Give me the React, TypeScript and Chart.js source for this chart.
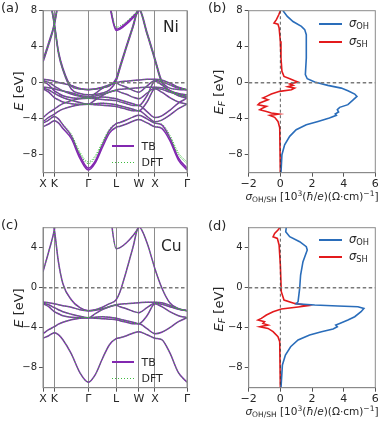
import React, { useEffect, useRef } from 'react';
import { Chart, registerables } from 'chart.js';

Chart.register(...registerables);
Chart.defaults.font.family = "'DejaVu Sans', sans-serif";

// ---------- k-path (band panels) ----------
const kPath = [0, 0.177, 0.354, 0.48, 0.62, 0.88, 1.15, 1.414, 1.63, 1.85, 2.07, 2.28, 2.4, 2.6, 2.8, 2.987, 3.24, 3.487, 3.7, 3.95, 4.22, 4.487];
const kTickPos = [0, 0.354, 1.414, 2.28, 2.987, 3.487, 4.487];
const kTickLabels = ['X', 'K', 'Γ', 'L', 'W', 'X', 'Γ'];
const niEnergyTicks = [-8, -4, 0, 4, 8];
const cuEnergyTicks = [-8, -4, 0, 4];
const sigmaTicks = [-2, 0, 2, 4, 6];
const niRange = [-10, 8];
const cuRange = [-10, 6];
const sigmaRange = [-2, 6];

// ---------- Ni bands (TB), eV ----------
const niS_up = [-4.89, -4.59, -4.22, -4.47, -5.08, -6.2, -8.4, -9.7, -8.9, -7.2, -5.6, -4.95, -4.83, -4.59, -4.28, -4.1, -4.47, -4.89, -5.08, -6.4, -8.6, -9.7];
const niS_dn = [-4.49, -4.15, -3.75, -4.02, -4.69, -5.9, -8.1, -9.5, -8.7, -6.9, -5.3, -4.56, -4.42, -4.15, -3.82, -3.61, -4.02, -4.49, -4.69, -6.1, -8.35, -9.5];
const niD2_up = [-4.34, -3.86, -3.49, -3.18, -2.94, -2.64, -2.45, -2.39, -2.45, -2.51, -2.57, -2.64, -2.76, -2.94, -3.12, -3.12, -3.73, -4.34, -4.16, -3.61, -2.88, -2.39];
const niD2_dn = [-3.88, -3.34, -2.94, -2.6, -2.33, -1.99, -1.79, -1.72, -1.79, -1.86, -1.93, -1.99, -2.13, -2.33, -2.53, -2.53, -3.21, -3.88, -3.68, -3.07, -2.26, -1.72];
const niD3_up = [-0.68, -1.05, -1.66, -1.9, -2.15, -2.33, -2.39, -2.39, -2.33, -2.27, -2.33, -2.45, -2.57, -2.76, -2.94, -3.12, -2.15, -0.68, -1.05, -1.66, -2.15, -2.39];
const niD3_dn = [0.17, -0.24, -0.91, -1.18, -1.45, -1.66, -1.72, -1.72, -1.66, -1.59, -1.66, -1.79, -1.93, -2.13, -2.33, -2.53, -1.45, 0.17, -0.24, -0.91, -1.45, -1.72];
const niD4_up = [-0.62, -0.81, -1.17, -1.42, -1.66, -1.96, -2.21, -2.39, -1.9, -1.42, -1.05, -0.87, -1.05, -1.29, -1.6, -1.78, -1.17, -0.62, -0.74, -1.05, -1.35, -1.54];
const niD4_dn = [0.24, 0.03, -0.37, -0.64, -0.91, -1.25, -1.52, -1.72, -1.18, -0.64, -0.24, -0.04, -0.24, -0.51, -0.85, -1.05, -0.37, 0.24, 0.1, -0.24, -0.58, -0.78];
const niD5_up = [-0.5, -0.56, -0.68, -0.81, -0.93, -1.11, -1.42, -1.54, -1.48, -1.29, -1.05, -0.81, -0.74, -0.68, -0.62, -0.56, -0.5, -0.5, -0.56, -0.87, -1.29, -1.54];
const niD5_dn = [0.37, 0.3, 0.17, 0.03, -0.1, -0.31, -0.64, -0.78, -0.71, -0.51, -0.24, 0.03, 0.1, 0.17, 0.24, 0.3, 0.37, 0.37, 0.3, -0.04, -0.51, -0.78];
const niX4_up = [2.3, 4.2, 6.4, 9.0, null, null, null, null, null, null, null, null, null, null, null, null, null, null, null, null, null, null];
const niX4_dn = [2.55, 4.45, 6.6, 9.2, null, null, null, null, null, null, null, null, null, null, null, null, null, null, null, null, null, null];
const niSP_up = [null, 10.0, 6.4, 3.3, 1.4, -0.7, -1.2, -1.35, -1.3, -1.15, -0.8, 0.2, 1.6, 3.9, 6.1, 8.1, 5.4, 2.5, 0.0, -0.9, -1.2, -1.35];
const niSP_dn = [null, 10.2, 6.6, 3.5, 1.6, -0.4, -0.7, -0.75, -0.7, -0.55, -0.35, 0.45, 1.85, 4.1, 6.3, 8.3, 5.6, 2.7, 0.2, -0.6, -0.75, -0.78];
const niUp_up = [null, null, null, null, null, null, null, null, null, null, 8.6, 5.8, 5.95, 6.5, 7.2, 8.0, 10.5, null, null, null, null, null];
const niUp_dn = [null, null, null, null, null, null, null, null, null, null, 8.8, 5.95, 6.1, 6.65, 7.35, 8.15, 10.6, null, null, null, null, null];
// Ni DFT (where it differs visibly from TB)
const niS_up_dft = [-4.89, -4.59, -4.22, -4.47, -5.0, -6.0, -7.9, -9.0, -8.3, -6.8, -5.45, -4.95, -4.83, -4.59, -4.28, -4.1, -4.47, -4.89, -5.0, -6.1, -8.0, -9.0];
const niS_dn_dft = [-4.49, -4.15, -3.75, -4.02, -4.6, -5.7, -7.7, -8.8, -8.1, -6.6, -5.15, -4.56, -4.42, -4.15, -3.82, -3.61, -4.02, -4.49, -4.6, -5.8, -7.8, -8.8];
const niUp_dft = [null, null, null, null, null, null, null, null, null, null, 9.0, 6.15, 6.3, 6.8, 7.45, 8.1, 10.6, null, null, null, null, null];

// ---------- Cu bands (TB), eV ----------
const cuS = [-5.05, -4.8, -4.5, -4.7, -5.2, -6.6, -8.5, -9.45, -8.7, -7.1, -5.7, -5.1, -5.0, -4.8, -4.55, -4.4, -4.7, -5.05, -5.2, -6.5, -8.5, -9.45];
const cuD2 = [-4.6, -4.2, -3.9, -3.65, -3.45, -3.2, -3.05, -3.0, -3.05, -3.1, -3.15, -3.2, -3.3, -3.45, -3.6, -3.6, -4.1, -4.6, -4.45, -4.0, -3.4, -3.0];
const cuD3 = [-1.6, -1.9, -2.4, -2.6, -2.8, -2.95, -3.0, -3.0, -2.95, -2.9, -2.95, -3.05, -3.15, -3.3, -3.45, -3.6, -2.8, -1.6, -1.9, -2.4, -2.8, -3.0];
const cuD4 = [-1.55, -1.7, -2.0, -2.2, -2.4, -2.65, -2.85, -3.0, -2.6, -2.2, -1.9, -1.75, -1.9, -2.1, -2.35, -2.5, -2.0, -1.55, -1.65, -1.9, -2.15, -2.3];
const cuD5 = [-1.45, -1.5, -1.6, -1.7, -1.8, -1.95, -2.2, -2.3, -2.25, -2.1, -1.9, -1.7, -1.65, -1.6, -1.55, -1.5, -1.45, -1.45, -1.5, -1.75, -2.1, -2.3];
const cuX4 = [1.6, 3.6, 5.8, 8.5, null, null, null, null, null, null, null, null, null, null, null, null, null, null, null, null, null, null];
const cuSP = [null, 8.5, 5.8, 2.6, 0.4, -1.2, -2.0, -2.3, -2.2, -1.95, -1.6, -1.2, -0.4, 1.7, 4.0, 6.1, 4.5, 1.9, 0.0, -1.5, -2.1, -2.3];
const cuUp = [null, null, null, null, null, null, null, null, null, null, 8.0, 3.9, 4.0, 4.5, 5.2, 6.1, 8.5, null, null, null, null, null];

// ---------- Conductivities (10^3 (hbar/e)(Ohm cm)^-1) vs E_F ----------
const niOhEnergy = [8.0, 7.37, 6.8, 6.26, 5.9, 5.33, 2.74, 0.9, 0.44, 0.07, -0.3, -0.6, -0.9, -1.26, -1.52, -1.9, -2.44, -2.74, -3.0, -3.26, -3.48, -3.63, -3.93, -4.3, -4.67, -5.22, -5.96, -6.9, -8.0, -10.0];
const niOhSigma = [0.17, 0.44, 0.8, 1.33, 1.54, 1.64, 1.64, 1.58, 1.7, 2.17, 3.0, 3.85, 4.27, 4.7, 4.84, 4.6, 4.27, 3.75, 3.6, 3.68, 3.47, 3.54, 3.1, 2.38, 1.64, 1.0, 0.59, 0.27, 0.1, 0.04];
const niShEnergy = [8.0, 7.55, 7.0, 6.63, 6.5, 6.1, 4.6, 2.74, 1.26, 0.7, 0.44, 0.22, 0.07, -0.15, -0.3, -0.44, -0.6, -0.78, -0.96, -1.26, -1.52, -1.7, -1.9, -2.26, -2.44, -2.63, -2.8, -3.0, -3.2, -3.37, -3.48, -3.63, -3.85, -4.3, -5.0, -10.0];
const niShSigma = [0.0, -0.1, -0.25, -0.4, -0.15, -0.08, 0.0, 0.04, 0.1, 0.23, 0.6, 0.9, 1.12, 0.6, 0.8, 0.48, 0.9, 0.7, -0.04, -0.57, -0.88, -1.1, -0.78, -1.3, -1.41, -0.88, -1.1, -1.3, -0.88, -0.57, -0.1, -0.67, -0.36, -0.15, -0.04, 0.0];
const cuOhEnergy = [6.1, 5.6, 5.1, 4.6, 4.1, 3.77, 2.6, 1.27, -0.07, -1.4, -1.6, -1.73, -1.83, -1.9, -2.07, -2.4, -2.9, -3.23, -3.57, -3.73, -3.9, -4.13, -4.4, -4.73, -5.23, -5.9, -6.73, -7.73, -10.0];
const cuOhSigma = [0.38, 0.34, 0.59, 1.22, 1.64, 1.7, 1.43, 1.28, 1.22, 1.12, 1.0, 2.17, 3.64, 4.9, 5.28, 5.1, 4.7, 4.27, 3.75, 3.5, 3.6, 3.33, 2.6, 1.85, 1.12, 0.65, 0.32, 0.13, 0.04];
const cuShEnergy = [6.1, 5.77, 5.43, 5.1, 4.93, 4.27, 2.27, -0.4, -1.23, -1.57, -1.8, -1.93, -2.13, -2.4, -2.73, -3.07, -3.23, -3.4, -3.57, -3.73, -3.9, -4.07, -4.4, -4.9, -5.4, -10.0];
const cuShSigma = [0.0, -0.15, -0.36, -0.46, -0.19, -0.08, 0.0, 0.06, 0.23, 0.9, 1.75, 1.12, 0.06, -0.46, -0.88, -1.2, -1.41, -1.0, -1.1, -0.78, -1.3, -0.78, -0.46, -0.15, -0.04, 0.0];

const niTB = [niS_up, niS_dn, niD2_up, niD2_dn, niD3_up, niD3_dn, niD4_up, niD4_dn, niD5_up, niD5_dn, niX4_up, niX4_dn, niSP_up, niSP_dn, niUp_up, niUp_dn];
const niDFT = [niS_up_dft, niS_dn_dft, niD2_up, niD2_dn, niD3_up, niD3_dn, niD4_up, niD4_dn, niD5_up, niD5_dn, niX4_up, niX4_dn, niSP_up, niSP_dn, niUp_dft];
const cuTB = [cuS, cuD2, cuD3, cuD4, cuD5, cuX4, cuSP, cuUp];
const cuDFT = [cuS, cuD2, cuD3, cuD4, cuD5, cuX4, cuSP, cuUp];

// ---------- styles ----------
const TXT = '#262626';
const FRAME = '#8a8a8a';
const TICKC = '#555';
const TB_COLOR = '#8228b0';
const DFT_COLOR = '#3dbb3d';
const OH_COLOR = '#2a6dba';
const SH_COLOR = '#e31a1c';
const TICK_FONT = 10;

const fmt = (v: number) => (v < 0 ? '\u2212' + Math.abs(v) : String(v));

function refPlugin(vertical: boolean) {
  return {
    id: 'refLines',
    afterDatasetsDraw(chart: any) {
      const { ctx, chartArea, scales } = chart;
      const { left, right, top, bottom } = chartArea;
      ctx.save();
      const y0 = scales.y.getPixelForValue(0);
      ctx.strokeStyle = '#7a7a7a';
      ctx.lineWidth = 1.4;
      ctx.setLineDash([3.5, 2.5]);
      ctx.beginPath();
      ctx.moveTo(left, y0);
      ctx.lineTo(right, y0);
      ctx.stroke();
      if (vertical) {
        const x0 = scales.x.getPixelForValue(0);
        ctx.strokeStyle = '#333';
        ctx.lineWidth = 0.8;
        ctx.setLineDash([3, 2.5]);
        ctx.beginPath();
        ctx.moveTo(x0, top);
        ctx.lineTo(x0, bottom);
        ctx.stroke();
      }
      ctx.setLineDash([]);
      ctx.strokeStyle = FRAME;
      ctx.lineWidth = 1;
      ctx.strokeRect(left, top, right - left, bottom - top);
      ctx.restore();
    },
  };
}

function yScale(range: number[], ticks: number[], width: number) {
  return {
    type: 'linear',
    min: range[0],
    max: range[1],
    afterBuildTicks: (s: any) => { s.ticks = ticks.map((v) => ({ value: v })); },
    ticks: { callback: (v: any) => fmt(Number(v)), padding: 2, color: TXT, font: { size: TICK_FONT } },
    grid: { drawOnChartArea: false, drawTicks: true, tickLength: 4, tickColor: TICKC, color: FRAME },
    border: { display: true, color: FRAME },
    afterFit: (s: any) => { s.width = width; },
  };
}

function bandSet(energies: (number | null)[], color: string, dft: boolean) {
  const pts: { x: number; y: number }[] = [];
  energies.forEach((e, i) => { if (e !== null) pts.push({ x: kPath[i], y: e }); });
  return {
    data: pts,
    showLine: true,
    borderColor: color,
    borderWidth: dft ? 1.0 : 1.5,
    borderDash: dft ? [1.2, 1.6] : [],
    pointRadius: 0,
    cubicInterpolationMode: 'monotone',
    fill: false,
  };
}

function bandConfig(tb: (number | null)[][], dft: (number | null)[][], range: number[], ticks: number[], padTop: number) {
  return {
    type: 'scatter',
    data: {
      datasets: [
        ...dft.map((b) => bandSet(b, DFT_COLOR, true)),
        ...tb.map((b) => bandSet(b, TB_COLOR, false)),
      ],
    },
    options: {
      responsive: false,
      animation: false,
      events: [],
      layout: { padding: { top: padTop, right: 8, left: 0, bottom: 0 } },
      plugins: { legend: { display: false }, tooltip: { enabled: false } },
      scales: {
        x: {
          type: 'linear',
          min: kTickPos[0],
          max: kTickPos[kTickPos.length - 1],
          afterBuildTicks: (s: any) => { s.ticks = kTickPos.map((v) => ({ value: v })); },
          ticks: { callback: (_v: any, i: number) => kTickLabels[i], autoSkip: false, maxRotation: 0, padding: 1, color: TXT, font: { size: TICK_FONT + 1 } },
          grid: { drawOnChartArea: true, color: '#8c8c8c', lineWidth: 1, tickLength: 4, tickColor: TICKC },
          border: { display: true, color: FRAME },
          afterFit: (s: any) => { s.height = 17.3; },
        },
        y: yScale(range, ticks, 43),
      },
    },
    plugins: [refPlugin(false)],
  };
}

function sigmaSet(sigma: number[], energy: number[], color: string) {
  return {
    data: sigma.map((s, i) => ({ x: s, y: energy[i] })),
    showLine: true,
    borderColor: color,
    borderWidth: 1.6,
    pointRadius: 0,
    tension: 0,
    fill: false,
  };
}

function sigmaConfig(oh: number[][], sh: number[][], range: number[], ticks: number[], padTop: number) {
  return {
    type: 'scatter',
    data: {
      datasets: [sigmaSet(oh[0], oh[1], OH_COLOR), sigmaSet(sh[0], sh[1], SH_COLOR)],
    },
    options: {
      responsive: false,
      animation: false,
      events: [],
      layout: { padding: { top: padTop, right: 14.7, left: 0, bottom: 0 } },
      plugins: { legend: { display: false }, tooltip: { enabled: false } },
      scales: {
        x: {
          type: 'linear',
          min: sigmaRange[0],
          max: sigmaRange[1],
          afterBuildTicks: (s: any) => { s.ticks = sigmaTicks.map((v) => ({ value: v })); },
          ticks: { callback: (v: any) => fmt(Number(v)), autoSkip: false, maxRotation: 0, padding: 1, color: TXT, font: { size: TICK_FONT + 1 } },
          grid: { drawOnChartArea: false, tickLength: 4, tickColor: TICKC, color: FRAME },
          border: { display: true, color: FRAME },
          afterFit: (s: any) => { s.height = 17.3; },
        },
        y: yScale(range, ticks, 53.7),
      },
    },
    plugins: [refPlugin(true)],
  };
}

const abs = (extra: React.CSSProperties): React.CSSProperties => ({ position: 'absolute', whiteSpace: 'nowrap', lineHeight: 1, ...extra });
const subS: React.CSSProperties = { fontSize: '0.72em', verticalAlign: '-0.28em' };
const supS: React.CSSProperties = { fontSize: '0.72em', verticalAlign: '0.5em' };

function SigmaTitle({ top }: { top: number }) {
  return (
    <div style={abs({ left: 312, top, transform: 'translate(-50%,-50%)', fontSize: 10.5 })}>
      <i>σ</i><span style={subS}>OH/SH</span> [10<span style={supS}>3</span>(<i>ħ</i>/<i>e</i>)(Ω·cm)<span style={supS}>−1</span>]
    </div>
  );
}

function YTitle({ x, y, sub }: { x: number; y: number; sub: boolean }) {
  return (
    <div style={abs({ left: x, top: y, transform: 'translate(-50%,-50%) rotate(-90deg)', fontSize: 13 })}>
      <i>E</i>{sub ? <span style={subS}><i>F</i></span> : null} [eV]
    </div>
  );
}

function Swatch({ left, top, width, color, dotted }: { left: number; top: number; width: number; color: string; dotted?: boolean }) {
  const style: React.CSSProperties = dotted
    ? { position: 'absolute', left, top, width, height: 1, backgroundImage: `repeating-linear-gradient(to right, ${color} 0px, ${color} 1.5px, transparent 1.5px, transparent 3px)` }
    : { position: 'absolute', left, top, width, height: 2, background: color };
  return <div style={style} />;
}

function BandLegend({ y1, y2 }: { y1: number; y2: number }) {
  return (
    <>
      <Swatch left={112} top={y1 - 1} width={22} color={TB_COLOR} />
      <div style={abs({ left: 141.5, top: y1, transform: 'translateY(-50%)', fontSize: 11 })}>TB</div>
      <Swatch left={112} top={y2} width={22} color={DFT_COLOR} dotted />
      <div style={abs({ left: 141.5, top: y2, transform: 'translateY(-50%)', fontSize: 11 })}>DFT</div>
    </>
  );
}

function SigmaLegend({ y1, y2 }: { y1: number; y2: number }) {
  return (
    <>
      <Swatch left={319} top={y1 - 1} width={23} color={OH_COLOR} />
      <div style={abs({ left: 349, top: y1, transform: 'translateY(-50%)', fontSize: 11.5 })}><i>σ</i><span style={subS}>OH</span></div>
      <Swatch left={319} top={y2 - 1} width={23} color={SH_COLOR} />
      <div style={abs({ left: 349, top: y2, transform: 'translateY(-50%)', fontSize: 11.5 })}><i>σ</i><span style={subS}>SH</span></div>
    </>
  );
}

export default function App() {
  const aRef = useRef<HTMLCanvasElement>(null);
  const bRef = useRef<HTMLCanvasElement>(null);
  const cRef = useRef<HTMLCanvasElement>(null);
  const dRef = useRef<HTMLCanvasElement>(null);

  useEffect(() => {
    const charts = [
      new Chart(aRef.current as HTMLCanvasElement, bandConfig(niTB, niDFT, niRange, niEnergyTicks, 10.7) as any),
      new Chart(bRef.current as HTMLCanvasElement, sigmaConfig([niOhSigma, niOhEnergy], [niShSigma, niShEnergy], niRange, niEnergyTicks, 10.7) as any),
      new Chart(cRef.current as HTMLCanvasElement, bandConfig(cuTB, cuDFT, cuRange, cuEnergyTicks, 12.7) as any),
      new Chart(dRef.current as HTMLCanvasElement, sigmaConfig([cuOhSigma, cuOhEnergy], [cuShSigma, cuShEnergy], cuRange, cuEnergyTicks, 12.7) as any),
    ];
    return () => charts.forEach((c) => c.destroy());
  }, []);

  const cv = (left: number, top: number): React.CSSProperties => ({ position: 'absolute', left, top, width: 195, height: 190 });

  return (
    <div style={{ position: 'absolute', left: 0, top: 0, width: 390, height: 433, background: '#fff', color: TXT, fontFamily: "'DejaVu Sans', sans-serif", overflow: 'hidden' }}>
      <canvas ref={aRef} width={195} height={190} style={cv(0, 0)} />
      <canvas ref={bRef} width={195} height={190} style={cv(195, 0)} />
      <canvas ref={cRef} width={195} height={190} style={cv(0, 215)} />
      <canvas ref={dRef} width={195} height={190} style={cv(195, 215)} />

      <div style={abs({ left: 1, top: 1, fontSize: 13 })}>(a)</div>
      <div style={abs({ left: 208, top: 1, fontSize: 13 })}>(b)</div>
      <div style={abs({ left: 1, top: 218, fontSize: 13 })}>(c)</div>
      <div style={abs({ left: 208, top: 219, fontSize: 13 })}>(d)</div>

      <div style={abs({ left: 163, top: 20, fontSize: 15.5 })}>Ni</div>
      <div style={abs({ left: 161, top: 239, fontSize: 15.5 })}>Cu</div>

      <YTitle x={18} y={91} sub={false} />
      <YTitle x={219} y={92} sub={true} />
      <YTitle x={18} y={308} sub={false} />
      <YTitle x={219} y={309} sub={true} />

      <SigmaTitle top={197} />
      <SigmaTitle top={412} />

      <BandLegend y1={146} y2={162} />
      <BandLegend y1={362} y2={378} />
      <SigmaLegend y1={24} y2={42} />
      <SigmaLegend y1={240} y2={257} />
    </div>
  );
}
